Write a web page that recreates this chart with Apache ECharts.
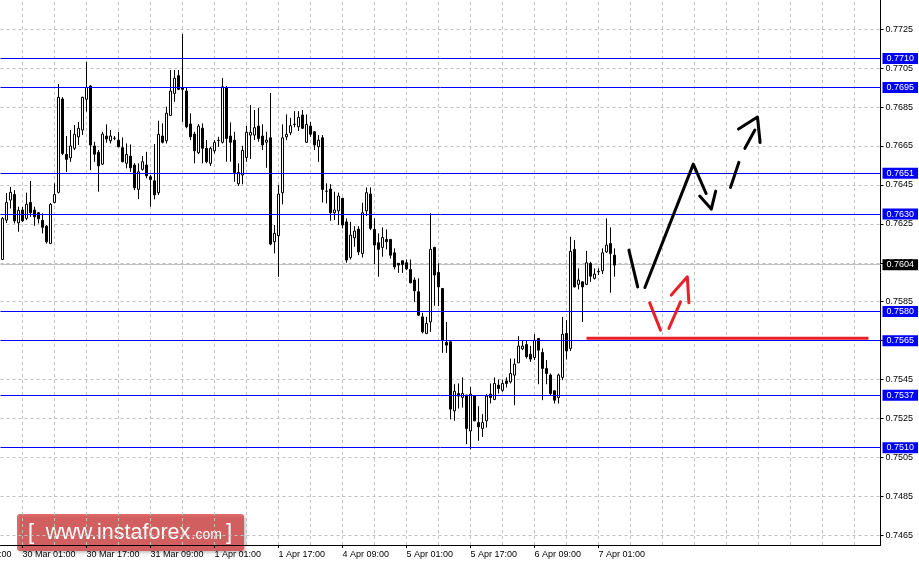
<!DOCTYPE html>
<html>
<head>
<meta charset="utf-8">
<script src="https://cdn.jsdelivr.net/npm/echarts@6/dist/echarts.min.js"></script>
<style>
html,body{margin:0;padding:0;background:#fff;}
#c{width:919px;height:565px;}
</style>
</head>
<body>
<div id="c"></div>
<script>
// ---- Data (H1 candles) ----
const opens = [0.76067,0.76269,0.76372,0.76401,0.76255,0.76321,0.76278,0.76360,0.76321,0.76307,
0.76268,0.76238,0.76149,0.76360,0.76412,0.76891,0.76607,0.76589,0.76638,0.76697,
0.76732,0.76890,0.76958,0.76650,0.76617,0.76557,0.76701,0.76677,0.76689,0.76680,
0.76641,0.76561,0.76598,0.76552,0.76427,0.76530,0.76552,0.76492,0.76471,0.76410,
0.76701,0.76677,0.76807,0.76920,0.77011,0.76951,0.76932,0.76763,0.76711,0.76615,
0.76741,0.76638,0.76561,0.76625,0.76679,0.76669,0.76951,0.76701,0.76680,0.76456,
0.76501,0.76591,0.76706,0.76706,0.76752,0.76701,0.76669,0.76692,0.76158,0.76189,
0.76410,0.76697,0.76718,0.76761,0.76749,0.76809,0.76669,0.76752,0.76723,0.76646,
0.76692,0.76418,0.76429,0.76307,0.76317,0.76381,0.76260,0.76077,0.76178,0.76223,
0.76098,0.76317,0.76403,0.76221,0.76153,0.76129,0.76170,0.76170,0.76101,0.76047,
0.76060,0.76050,0.76016,0.75961,0.75901,0.75772,0.75687,0.75746,0.76129,0.76000,
0.75918,0.75641,0.75644,0.75289,0.75378,0.75358,0.75370,0.75186,0.75365,0.75229,
0.75199,0.75238,0.75375,0.75348,0.75421,0.75395,0.75443,0.75438,0.75473,0.75536,
0.75608,0.75630,0.75580,0.75563,0.75661,0.75589,0.75507,0.75473,0.75392,0.75358,
0.75461,0.75687,0.75610,0.76119,0.75939,0.75952,0.75939,0.76047,0.75970,0.76004,
0.76009,0.76106,0.76149,0.76089];
const closes = [0.76278,0.76360,0.76412,0.76266,0.76319,0.76266,0.76351,0.76307,0.76286,0.76276,
0.76232,0.76158,0.76350,0.76401,0.76900,0.76612,0.76581,0.76650,0.76710,0.76741,
0.76900,0.76951,0.76655,0.76608,0.76548,0.76711,0.76686,0.76701,0.76690,0.76646,
0.76569,0.76607,0.76538,0.76435,0.76517,0.76569,0.76497,0.76478,0.76399,0.76710,
0.76669,0.76818,0.76932,0.76998,0.76941,0.76941,0.76749,0.76697,0.76625,0.76752,
0.76638,0.76569,0.76638,0.76669,0.76678,0.76954,0.76689,0.76669,0.76514,0.76514,
0.76627,0.76720,0.76720,0.76744,0.76689,0.76655,0.76680,0.76146,0.76201,0.76403,
0.76692,0.76710,0.76754,0.76762,0.76797,0.76741,0.76761,0.76710,0.76655,0.76680,
0.76427,0.76417,0.76307,0.76321,0.76393,0.76244,0.76064,0.76192,0.76213,0.76106,
0.76307,0.76410,0.76227,0.76141,0.76119,0.76180,0.76158,0.76089,0.76029,0.76038,
0.76041,0.76019,0.75947,0.75906,0.75781,0.75695,0.75738,0.76119,0.75987,0.75926,
0.75652,0.75627,0.75298,0.75390,0.75365,0.75378,0.75199,0.75375,0.75238,0.75207,
0.75229,0.75365,0.75358,0.75430,0.75404,0.75430,0.75430,0.75481,0.75529,0.75622,
0.75622,0.75567,0.75555,0.75652,0.75601,0.75507,0.75481,0.75378,0.75344,0.75473,
0.75683,0.75597,0.76108,0.75926,0.75961,0.75926,0.76050,0.75981,0.75992,0.76005,
0.76101,0.76141,0.76098,0.76038];
const lows = [0.76064,0.76254,0.76329,0.76252,0.76209,0.76259,0.76269,0.76286,0.76240,0.76252,
0.76201,0.76149,0.76146,0.76355,0.76406,0.76603,0.76517,0.76569,0.76629,0.76655,
0.76706,0.76826,0.76526,0.76569,0.76415,0.76552,0.76667,0.76663,0.76680,0.76643,
0.76566,0.76535,0.76517,0.76423,0.76377,0.76523,0.76484,0.76338,0.76376,0.76398,
0.76663,0.76663,0.76804,0.76877,0.76937,0.76774,0.76741,0.76680,0.76561,0.76608,
0.76561,0.76561,0.76547,0.76612,0.76646,0.76663,0.76569,0.76569,0.76466,0.76445,
0.76453,0.76569,0.76583,0.76680,0.76672,0.76629,0.76538,0.76140,0.76098,0.75978,
0.76350,0.76680,0.76706,0.76746,0.76727,0.76737,0.76667,0.76697,0.76629,0.76569,
0.76360,0.76355,0.76266,0.76269,0.76244,0.76227,0.76050,0.76067,0.76132,0.76089,
0.76077,0.76290,0.76218,0.76043,0.75978,0.76081,0.76119,0.76072,0.76016,0.75998,
0.75998,0.76012,0.75944,0.75849,0.75776,0.75687,0.75683,0.75695,0.75829,0.75827,
0.75587,0.75587,0.75245,0.75238,0.75301,0.75306,0.75118,0.75091,0.75236,0.75135,
0.75155,0.75204,0.75327,0.75344,0.75378,0.75387,0.75409,0.75430,0.75318,0.75536,
0.75601,0.75558,0.75541,0.75550,0.75426,0.75344,0.75426,0.75370,0.75327,0.75327,
0.75447,0.75553,0.75597,0.75923,0.75913,0.75746,0.75935,0.75952,0.75964,0.75987,
0.75992,0.76101,0.75896,0.75978];
const highs = [0.76285,0.76408,0.76440,0.76423,0.76338,0.76336,0.76410,0.76470,0.76338,0.76310,
0.76304,0.76244,0.76357,0.76458,0.76968,0.76901,0.76701,0.76732,0.76758,0.76774,
0.76903,0.77083,0.76962,0.76672,0.76629,0.76723,0.76761,0.76732,0.76701,0.76723,
0.76694,0.76663,0.76658,0.76562,0.76561,0.76598,0.76620,0.76501,0.76660,0.76780,
0.76766,0.76852,0.77040,0.77040,0.77040,0.77225,0.76951,0.76818,0.76723,0.76763,
0.76766,0.76680,0.76646,0.76680,0.76697,0.76998,0.76958,0.76771,0.76723,0.76561,
0.76651,0.76754,0.76860,0.76835,0.76846,0.76761,0.76723,0.76922,0.76244,0.76449,
0.76761,0.76812,0.76795,0.76829,0.76829,0.76835,0.76812,0.76774,0.76726,0.76706,
0.76706,0.76458,0.76454,0.76415,0.76410,0.76384,0.76278,0.76260,0.76238,0.76238,
0.76358,0.76437,0.76437,0.76278,0.76201,0.76232,0.76221,0.76172,0.76124,0.76049,
0.76062,0.76067,0.76067,0.75975,0.75970,0.75793,0.75772,0.76304,0.76132,0.76047,
0.75920,0.75746,0.75646,0.75426,0.75430,0.75461,0.75372,0.75412,0.75367,0.75313,
0.75272,0.75375,0.75430,0.75461,0.75450,0.75450,0.75461,0.75558,0.75558,0.75673,
0.75652,0.75652,0.75623,0.75683,0.75663,0.75610,0.75550,0.75481,0.75394,0.75481,
0.75772,0.75755,0.76183,0.76166,0.76021,0.75954,0.76111,0.76055,0.76021,0.76021,
0.76124,0.76278,0.76232,0.76124];

// axis / annotation values
const yTicks = [0.7465,0.7485,0.7505,0.7525,0.7545,0.7565,0.7585,0.7605,0.7625,0.7645,0.7665,0.7685,0.7705,0.7725];
const levelValues = [0.7710,0.7695,0.7651,0.7630,0.7580,0.7565,0.7537,0.7510];
const lastPrice = 0.7604;
const xTickBars = [5,21,37,53,69,85,101,117,133,149];
const xTickLabels = ['30 Mar 01:00','30 Mar 17:00','31 Mar 09:00','1 Apr 01:00','1 Apr 17:00','4 Apr 09:00','5 Apr 01:00','5 Apr 17:00','6 Apr 09:00','7 Apr 01:00'];
const hiddenTickBar = -11;
const hiddenTickLabel = '29 Mar 09:00';
const barCount = 220;
const redLevelBars = [146, 216.5];
const redLevelValue = 0.75662;
const blackSolid = [
  [[156.6,0.76115],[158.8,0.75926]],
  [[160.6,0.75923],[172.7,0.76557],[175.9,0.76406]],
  [[174.3,0.76393],[177.2,0.76326],[178.3,0.76418]]
];
const blackDashed = [
  [[182.0,0.76437],[184.1,0.76566]],
  [[185.6,0.76638],[188.1,0.76732]],
  [[184.0,0.76737],[188.75,0.76799],[189.4,0.76668]]
];
const redDashed = [
  [[161.8,0.75844],[164.5,0.75704]],
  [[166.6,0.75713],[169.5,0.75849]],
  [[167.2,0.75884],[171.2,0.75978],[171.6,0.75844]]
];

// ---- Build ----
const FONT = "'Liberation Sans', Arial, sans-serif";
const candleData = opens.map((o, i) => [o, closes[i], lows[i], highs[i]]);
const cats = Array.from({length: barCount}, (_, i) => String(i));
const labelAt = {};
xTickBars.forEach((b, k) => { labelAt[b] = xTickLabels[k]; });
const isTick = (i) => labelAt[i] !== undefined;
const vGrid = [];
for (let b = xTickBars[0] % 8; b < barCount; b += 8) vGrid.push(b);

function seg(points, color) {
  return {
    type: 'line', xAxisIndex: 1, yAxisIndex: 0, data: points, symbol: 'none',
    silent: true, z: 6, clip: false,
    lineStyle: {color: color, width: 3, cap: 'round', join: 'round'}
  };
}

const series = [
  { // grid lines
    type: 'line', xAxisIndex: 1, data: [], silent: true, z: 1,
    markLine: {
      silent: true, z: 1, precision: 5, symbol: ['none','none'], animation: false,
      label: {show: false},
      lineStyle: {color: '#c0c0c0', type: [3,3], width: 1},
      data: [...yTicks.map(v => ({yAxis: v})), ...vGrid.map(b => ({xAxis: b}))]
    }
  },
  { // last price line
    type: 'line', xAxisIndex: 1, data: [], silent: true, z: 1,
    markLine: {
      silent: true, z: 2, precision: 5, symbol: ['none','none'], animation: false,
      lineStyle: {color: '#c0c0c0', type: 'solid', width: 1},
      label: {show: true, position: 'end', distance: 2, formatter: p => Number(p.value).toFixed(4),
        color: '#fff', backgroundColor: '#000', padding: [1,4,0,4], fontSize: 9, fontFamily: FONT, lineHeight: 10},
      data: [{yAxis: lastPrice}]
    }
  },
  {
    type: 'candlestick', xAxisIndex: 0, yAxisIndex: 0, data: candleData, z: 2,
    barWidth: 2, silent: true,
    itemStyle: {color: '#ffffff', color0: '#000000', borderColor: '#000000', borderColor0: '#000000', borderWidth: 1}
  },
  { // support / resistance levels
    type: 'line', xAxisIndex: 1, data: [], silent: true, z: 3,
    markLine: {
      silent: true, z: 3, precision: 5, symbol: ['none','none'], animation: false,
      lineStyle: {color: '#0000ff', type: 'solid', width: 1},
      label: {show: true, position: 'end', distance: 2, formatter: p => Number(p.value).toFixed(4),
        color: '#fff', backgroundColor: '#0000ff', padding: [1,4,0,4], fontSize: 9, fontFamily: FONT, lineHeight: 10},
      data: levelValues.map(v => ({yAxis: v}))
    }
  },
  {
    type: 'line', xAxisIndex: 1, yAxisIndex: 0, symbol: 'none', silent: true, z: 5,
    data: redLevelBars.map(b => [b, redLevelValue]),
    lineStyle: {color: '#e8202a', width: 3, cap: 'butt'}
  },
  ...blackSolid.map(p => seg(p, '#000000')),
  ...blackDashed.map(p => seg(p, '#000000')),
  ...redDashed.map(p => seg(p, '#e8202a'))
];

const chart = echarts.init(document.getElementById('c'), null, {renderer: 'canvas'});
chart.setOption({
  animation: false,
  backgroundColor: '#ffffff',
  grid: {left: 0.5, right: 38.5, top: 0, bottom: 20, containLabel: false},
  xAxis: [
    {
      type: 'category', data: cats, boundaryGap: true,
      axisLine: {show: true, onZero: false, lineStyle: {color: '#000', width: 1}},
      axisTick: {show: true, alignWithLabel: true, interval: (i) => isTick(i), length: 3, lineStyle: {color: '#000'}},
      axisLabel: {show: true, interval: (i) => isTick(i), formatter: (v, i) => labelAt[i] || '',
        align: 'left', color: '#000', fontSize: 9, fontFamily: FONT, margin: 5},
      splitLine: {show: false}
    },
    {type: 'value', min: -0.5, max: barCount - 0.5, show: false}
  ],
  yAxis: {
    type: 'value', position: 'right', min: 0.7460, max: 0.7740,
    axisLine: {show: true, onZero: false, lineStyle: {color: '#000', width: 1}},
    axisTick: {show: true, customValues: yTicks, length: 3, lineStyle: {color: '#000'}},
    axisLabel: {show: true, customValues: yTicks, formatter: v => v.toFixed(4), color: '#000', fontSize: 9, fontFamily: FONT, margin: 5},
    splitLine: {show: false}
  },
  series: series
});

// partially visible first time label + watermark
const hx = chart.convertToPixel({xAxisIndex: 1}, hiddenTickBar);
const axisY = chart.convertToPixel({yAxisIndex: 0}, 0.7460);
chart.setOption({
  graphic: [
    {type: 'text', x: hx, y: axisY + 5, silent: true,
      style: {text: hiddenTickLabel, fill: '#000', font: '9px ' + FONT, textAlign: 'left', textVerticalAlign: 'top'}},
    {type: 'group', x: 17, y: 514, silent: true, z: 100, children: [
      {type: 'rect', shape: {x: 0, y: 0, width: 227, height: 37, r: 3},
        style: {fill: 'rgba(214,60,60,0.75)', shadowBlur: 3, shadowOffsetX: 2, shadowOffsetY: 2, shadowColor: 'rgba(0,0,0,0.3)'}},
      {type: 'text', x: 11, y: 18.5, style: {text: '[', fill: '#fff', font: '22px ' + FONT, textVerticalAlign: 'middle'}},
      {type: 'text', x: 28.7, y: 18.6, style: {text: 'www.instaforex', fill: '#fff', font: '21.5px ' + FONT, textVerticalAlign: 'middle'}},
      {type: 'text', x: 174.5, y: 21.1, style: {text: '.com', fill: '#fff', font: '14px ' + FONT, textVerticalAlign: 'middle'}},
      {type: 'text', x: 209, y: 18.5, style: {text: ']', fill: '#fff', font: '22px ' + FONT, textVerticalAlign: 'middle'}}
    ]}
  ]
});
</script>
</body>
</html>
